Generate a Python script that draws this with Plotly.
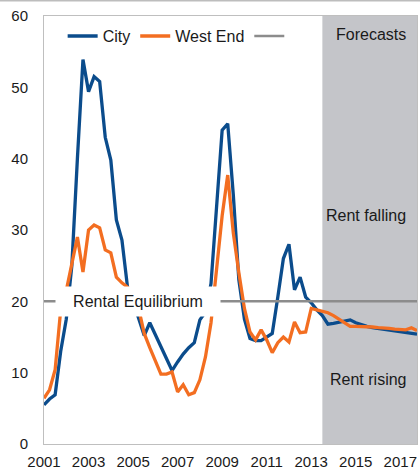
import plotly.graph_objects as go

# Quarterly observations / forecasts, 2001 Q1 .. 2017 Q4
start_year = 2001
n_quarters = 68
quarters = [start_year + i * 0.25 for i in range(n_quarters)]

city = [
    5.5, 6.3, 6.9, 13.0,
    17.5, 25.0, 40.0, 53.9,
    49.4, 51.5, 50.8, 43.0,
    39.8, 31.4, 28.6, 22.0,
    20.0, 17.5, 15.2, 17.0,
    15.3, 13.6, 11.9, 10.3,
    11.5, 12.6, 13.5, 14.2,
    17.4, 18.5, 22.5, 33.0,
    44.0, 44.9, 35.0, 23.0,
    17.5, 14.8, 14.5, 14.5,
    15.0, 15.5, 20.6, 26.0,
    28.0, 21.6, 23.4, 20.6,
    19.8, 18.8, 18.0, 16.8,
    16.9, 17.1, 17.3, 17.4,
    17.0, 16.7, 16.5, 16.3,
    16.2, 16.0, 15.9, 15.8,
    15.7, 15.6, 15.5, 15.4,
]

west_end = [
    6.4, 7.6, 10.4, 18.8,
    21.5, 25.0, 29.0, 24.1,
    30.0, 30.7, 30.3, 27.2,
    26.8, 23.4, 22.6, 22.0,
    21.0, 19.0, 15.5, 13.5,
    11.5, 9.8, 9.8, 10.1,
    7.3, 8.3, 6.9, 7.2,
    9.0, 12.2, 17.0, 25.0,
    32.0, 37.7, 29.6, 24.0,
    19.0, 15.7, 14.6, 16.0,
    14.6, 12.8, 14.2, 15.0,
    14.3, 17.1, 15.6, 15.7,
    19.0, 18.8, 18.6, 18.4,
    18.0, 17.5, 16.9, 16.5,
    16.5, 16.5, 16.4, 16.4,
    16.3, 16.3, 16.2, 16.1,
    16.0, 16.0, 16.3, 15.9,
]

equilibrium_level = 20
equilibrium_x = [quarters[0], quarters[-1]]
equilibrium_y = [equilibrium_level, equilibrium_level]

forecast_start = 2013.5
tick_years = [2001, 2003, 2005, 2007, 2009, 2011, 2013, 2015, 2017]
tick_labels = [str(y) for y in tick_years]
y_ticks = [0, 10, 20, 30, 40, 50, 60]

BLUE = "#0B4C8C"
ORANGE = "#F36E21"
GREY_LINE = "#8C8C8C"
SHADE = "#C4C5C9"
FONT = "Liberation Sans, Arial, sans-serif"

fig = go.Figure()
fig.add_trace(go.Scatter(x=quarters, y=city, mode="lines", name="City",
                         line=dict(color=BLUE, width=3.3)))
fig.add_trace(go.Scatter(x=quarters, y=west_end, mode="lines", name="West End",
                         line=dict(color=ORANGE, width=3.3)))
fig.add_trace(go.Scatter(x=equilibrium_x, y=equilibrium_y, mode="lines", name=" ",
                         line=dict(color=GREY_LINE, width=2.5)))

fig.add_shape(type="rect", xref="x", yref="y", x0=forecast_start, x1=quarters[-1],
              y0=0, y1=60, fillcolor=SHADE, line=dict(width=0), layer="below")
# outer chart border (top edge visible)
fig.add_shape(type="line", xref="paper", yref="paper", x0=-0.2, x1=1.2,
              y0=1 + 15.5 / 428, y1=1 + 15.5 / 428,
              line=dict(color="#BDBDBD", width=2))

ann_font = dict(family=FONT, size=16, color="#1a1a1a")
fig.add_annotation(x=2017.33, y=57.4, text="Forecasts", showarrow=False,
                   xanchor="right", yanchor="middle", font=ann_font)
fig.add_annotation(x=2017.33, y=32.1, text="Rent falling", showarrow=False,
                   xanchor="right", yanchor="middle", font=ann_font)
fig.add_annotation(x=2017.33, y=9.0, text="Rent rising", showarrow=False,
                   xanchor="right", yanchor="middle", font=ann_font)
fig.add_annotation(x=2005.22, y=20, text="Rental Equilibrium", showarrow=False,
                   xanchor="center", yanchor="middle", font=ann_font,
                   bgcolor="white", borderpad=6, width=152)

fig.update_layout(
    width=420, height=474,
    margin=dict(l=44, r=3, t=16, b=30),
    paper_bgcolor="white", plot_bgcolor="white",
    font=dict(family=FONT, size=15, color="#1a1a1a"),
    showlegend=True,
    legend=dict(orientation="h", x=0.05, y=0.953, xanchor="left", yanchor="middle",
                bgcolor="rgba(0,0,0,0)", font=dict(family=FONT, size=16),
                itemwidth=30, tracegroupgap=0),
)
fig.update_xaxes(range=[quarters[0], quarters[-1]], tickvals=tick_years, ticktext=tick_labels,
                 showgrid=False, zeroline=False, showline=True, linecolor="#BFBFBF",
                 linewidth=1, mirror=True, ticks="", ticklabelstandoff=4)
fig.update_yaxes(range=[0, 60], tickvals=y_ticks, showgrid=False, zeroline=False,
                 showline=True, linecolor="#BFBFBF", linewidth=1, mirror=True,
                 ticks="", ticklabelstandoff=12)

fig.write_html("out.html")
